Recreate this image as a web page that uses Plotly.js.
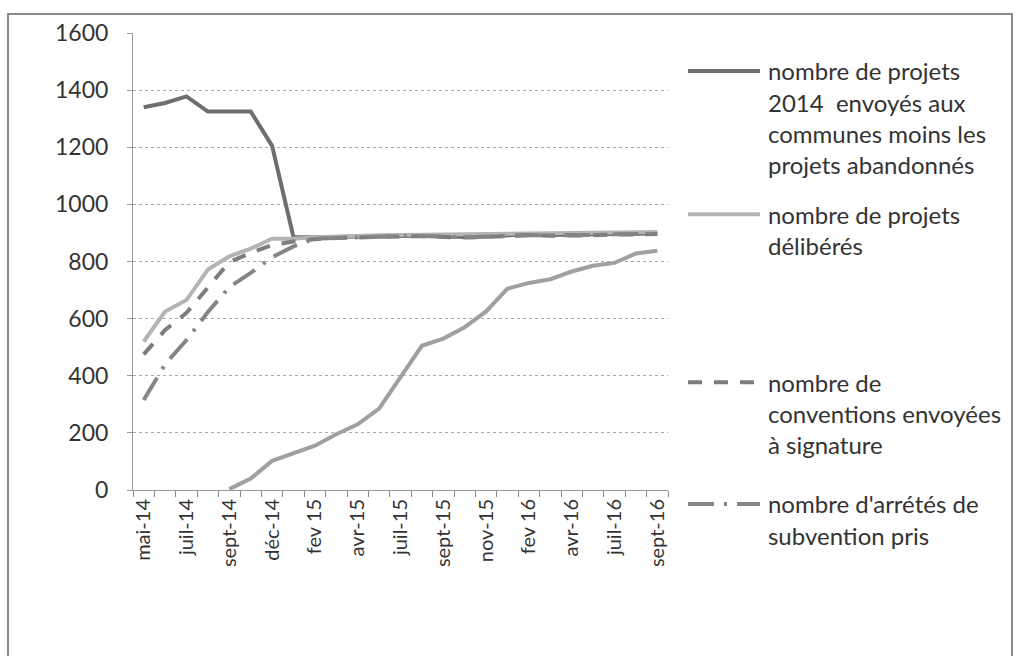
<!DOCTYPE html>
<html>
<head>
<meta charset="utf-8">
<script src="https://cdn.plot.ly/plotly-3.0.1.min.js"></script>
<style>
  html, body { margin: 0; padding: 0; background: #fff; overflow: hidden; }
  #frame { position: absolute; left: 7px; top: 13px; width: 1006px; height: 700px;
           border: 2px solid #8a8a8a; box-sizing: border-box; pointer-events: none; }
  #chart { position: absolute; left: 0; top: 0; width: 1025px; height: 656px; }
</style>
</head>
<body>
<div id="chart"></div>
<div id="frame"></div>
<script>
// Categories (x axis)
const categories = ["mai-14","juin-14","juil-14","août-14","sept-14","oct-14","déc-14","janv-15",
  "fev 15","mars-15","avr-15","juin-15","juil-15","août-15","sept-15","oct-15","nov-15","janv-16",
  "fev 16","mars-16","avr-16","juin-16","juil-16","août-16","sept-16"];

// Series values
const projetsEnvoyes = [1340,1355,1378,1325,1325,1325,1205,885,
  885,886,888,888,890,890,888,886,888,892,895,893,893,895,896,897,898];
const projetsDeliberes = [520,625,665,772,818,845,880,880,
  885,888,890,892,893,894,895,896,897,898,900,900,900,901,902,903,903];
const conventionsEnvoyees = [475,560,620,710,798,830,858,870,
  878,882,885,886,888,888,885,884,886,890,892,890,890,892,894,895,896];
const arretesPris = [315,440,525,623,710,760,815,853,
  880,883,886,887,889,889,887,885,887,891,893,891,891,893,895,896,897];
const serieCroissante = [null,null,null,null,3,40,102,130,
  155,195,230,285,395,505,530,570,625,705,725,738,765,785,795,828,838];

// Series names
const names = [
  "nombre de projets<br>2014  envoyés aux<br>communes moins les<br>projets abandonnés",
  "nombre de projets<br>délibérés",
  "nombre de<br>conventions envoyées<br>à signature",
  "nombre d'arrétés de<br>subvention pris"
];

const shownLabels = categories.map((c, i) => (i % 2 === 0 ? c : ""));

const traces = [
  { x: categories, y: projetsEnvoyes, name: names[0], type: "scatter", mode: "lines",
    line: { color: "#6e6e6e", width: 4 }, legend: "legend" },
  { x: categories, y: projetsDeliberes, name: names[1], type: "scatter", mode: "lines",
    line: { color: "#b4b4b4", width: 4 }, legend: "legend2" },
  { x: categories, y: conventionsEnvoyees, name: names[2], type: "scatter", mode: "lines",
    line: { color: "#7d7d7d", width: 4, dash: "14px,12px" }, legend: "legend3" },
  { x: categories, y: arretesPris, name: names[3], type: "scatter", mode: "lines",
    line: { color: "#858585", width: 4, dash: "26px,10px,3px,10px" }, legend: "legend4" },
  { x: categories, y: serieCroissante, name: "", type: "scatter", mode: "lines",
    line: { color: "#a0a0a0", width: 4 }, showlegend: false }
];

const legendFont = { family: "Lato, 'Open Sans', sans-serif", size: 24, color: "#333" };
function leg(y) {
  return { x: 1.028, xanchor: "left", y: y, yanchor: "top", font: legendFont,
           bgcolor: "rgba(0,0,0,0)", valign: "top", itemwidth: 75, tracegroupgap: 0 };
}

const layout = {
  width: 1025, height: 656,
  margin: { l: 133, r: 357, t: 33, b: 166 },
  paper_bgcolor: "#fff", plot_bgcolor: "#fff",
  font: { family: "Lato, 'Open Sans', sans-serif", color: "#333" },
  xaxis: {
    type: "category", categoryorder: "array", categoryarray: categories,
    tickmode: "array", tickvals: categories, ticktext: shownLabels,
    tickson: "boundaries", ticks: "outside", ticklen: 6, tickcolor: "#888",
    tickangle: -90, tickfont: { size: 20, color: "#333" },
    showgrid: false, showline: true, linecolor: "#999", linewidth: 1,
    range: [-0.5, 24.5], zeroline: false
  },
  yaxis: {
    range: [0, 1600], dtick: 200, tick0: 0,
    ticks: "outside", ticklen: 5, tickcolor: "#999",
    tickfont: { size: 23, color: "#333" }, ticklabelstandoff: 14,
    showgrid: true, gridcolor: "#aaa", gridwidth: 1, griddash: "dot",
    showline: true, linecolor: "#999", linewidth: 1, zeroline: false
  },
  showlegend: true,
  legend: leg(0.965),
  legend2: leg(0.652),
  legend3: leg(0.284),
  legend4: leg(0.0175)
};

Plotly.newPlot("chart", traces, layout, { displayModeBar: false, staticPlot: true }).then(function () {
  // Excel-style long legend line samples
  document.querySelectorAll(".legendlines path").forEach(function (p) {
    p.setAttribute("d", "M5,0h72");
  });
});
</script>
</body>
</html>
